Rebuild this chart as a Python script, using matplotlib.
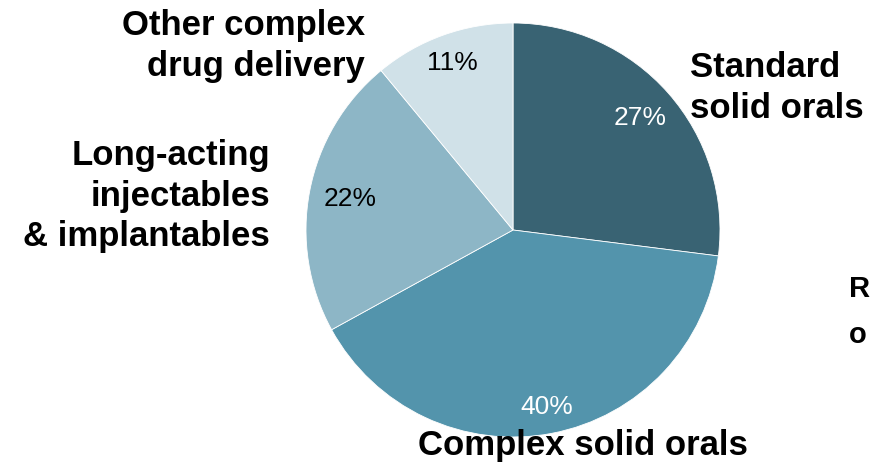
import numpy as np
import matplotlib.pyplot as plt

# Share of pipeline by formulation type
segments = ['Standard\nsolid orals', 'Complex solid orals',
            'Long-acting\ninjectables\n& implantables', 'Other complex\ndrug delivery']
shares = [27, 40, 22, 11]
colors = ['#396373', '#5394ac', '#8db6c6', '#d0e1e8']
pct_colors = ['white', 'white', 'black', 'black']

plt.rcParams['font.family'] = ['Liberation Sans', 'DejaVu Sans']

fig = plt.figure(figsize=(8.71, 4.65), dpi=100)
# pie centred at (513, 230) px with a 207 px radius
ax = fig.add_axes([(513 - 207) / 871, (465 - 437) / 465, 414 / 871, 414 / 465])

wedges, _ = ax.pie(shares, colors=colors, startangle=90, counterclock=False,
                   radius=1, wedgeprops=dict(edgecolor='white', linewidth=0.6))
ax.set_xlim(-1, 1)
ax.set_ylim(-1, 1)
ax.set_aspect('equal')
ax.axis('off')

# percentage inside each slice
pct_dist = [0.82, 0.87, 0.80, 0.86]
for w, val, c, d in zip(wedges, shares, pct_colors, pct_dist):
    ang = np.deg2rad((w.theta1 + w.theta2) / 2)
    ax.text(d * np.cos(ang), d * np.sin(ang), f'{val}%', ha='center', va='center',
            fontsize=19, color=c)

# category names around the pie
label_pos = [(0.855, 0.686, 'left'), (0.338, -1.039, 'center'),
             (-1.174, 0.164, 'right'), (-0.715, 0.889, 'right')]
for name, (x, y, ha) in zip(segments, label_pos):
    ax.text(x, y, name, ha=ha, va='center', multialignment=ha,
            fontsize=25, fontweight='bold', linespacing=1.3, clip_on=False)

fig.text(849 / 871, 1 - 312 / 465, 'R\no', ha='left', va='center',
         fontsize=21, fontweight='bold', linespacing=1.8)

fig.savefig('out.png', dpi=100)
